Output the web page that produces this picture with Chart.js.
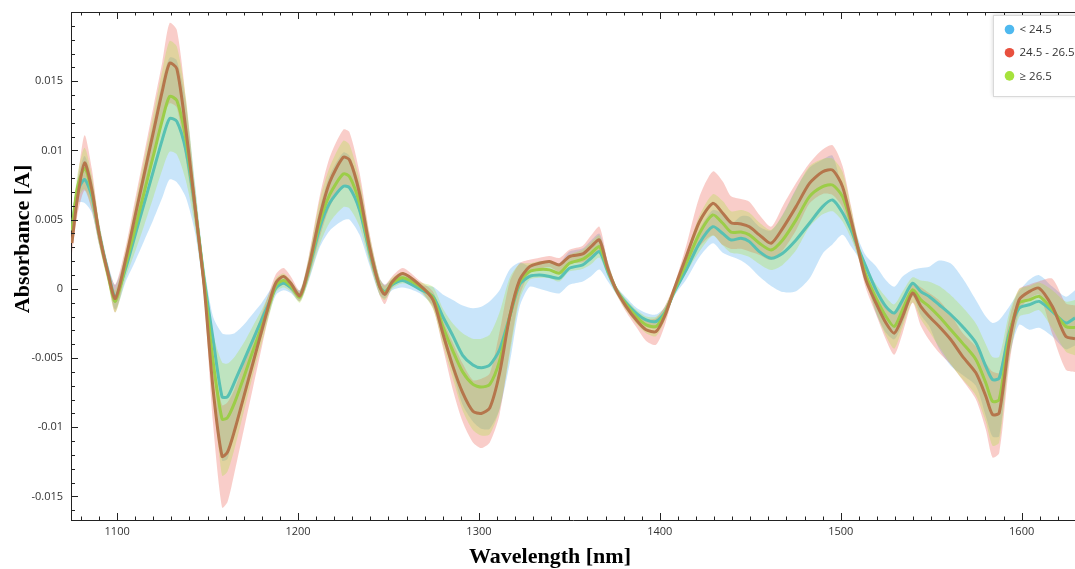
<!DOCTYPE html>
<html>
<head>
<meta charset="utf-8">
<script src="https://cdn.jsdelivr.net/npm/chart.js@4.4.1/dist/chart.umd.min.js"></script>
<style>
  html, body { margin: 0; padding: 0; background: #ffffff; }
  #wrap { position: relative; width: 1075px; height: 569px; }
</style>
</head>
<body>
<div id="wrap"><canvas id="chart" width="1075" height="569"></canvas></div>
<script>
// ---------------- DATA ----------------
const wavelengths = [1075,1078,1082,1086,1090,1095,1099,1105,1110,1115,
  1120,1125,1129,1133,1138,1143,1148,1153,1158,1161,
  1165,1170,1175,1180,1185,1188,1192,1196,1201,1206,
  1212,1217.5,1225,1228.5,1234,1239.5,1245,1248,1252,1258,
  1267,1274.6,1280,1285.6,1291,1296.7,1301.3,1306,1311.4,1317,
  1322.5,1328,1333.5,1339,1344.5,1350,1357.4,1362,1366.6,1371.2,
  1375.9,1381.4,1386.9,1392.4,1397.9,1402.6,1408.1,1414.6,1421.9,1429.3,
  1434.8,1439.4,1444.9,1449.5,1455,1461.5,1467.9,1475.3,1482.7,1490,
  1495.5,1501,1505.7,1509.3,1513.9,1519.5,1525,1529.6,1534.2,1539.7,
  1544.3,1548.9,1554.4,1560.9,1567.3,1574.7,1580.2,1583.9,1587.6,1593.1,
  1598.6,1604.2,1609.7,1617,1624.4,1629.5];

// group "< 24.5" (blue)
const meanLow = [0.0043,0.0070,0.0079,0.0067,0.0040,0.0012,-0.0006,0.0016,0.0039,0.0062,
  0.0085,0.0108,0.0123,0.0121,0.0100,0.0059,0.0008,-0.0036,-0.0078,-0.0078,
  -0.0067,-0.0052,-0.0037,-0.0022,-0.0007,0.0001,0.0004,0.0001,-0.0005,0.0014,
  0.0044,0.0062,0.0074,0.0073,0.0057,0.0027,0.0002,-0.0002,0.0003,0.0006,
  0.0000,-0.00055,-0.0020,-0.0034,-0.0048,-0.0055,-0.0057,-0.0055,-0.0044,-0.0020,
  0.0003,0.0009,0.0010,0.00089,0.00077,0.00149,0.00173,0.00221,0.00269,0.00125,
  -0.00007,-0.00103,-0.00175,-0.00224,-0.00236,-0.00175,-0.0002,0.00137,0.0033,0.00449,
  0.0040,0.00353,0.00365,0.00341,0.00269,0.00221,0.00257,0.00353,0.00474,0.00594,
  0.00642,0.0055,0.00425,0.00305,0.0016,-0.00007,-0.00128,-0.00175,-0.0008,0.00041,
  -0.0002,-0.00055,-0.00115,-0.00187,-0.00272,-0.0039,-0.0056,-0.00656,-0.00645,-0.0032,
  -0.0014,-0.00115,-0.00091,-0.00164,-0.00247,-0.0021];
const sdLow = [0.0006,0.0008,0.0017,0.0012,0.0008,0.0006,0.0009,0.0010,0.0019,0.0027,
  0.0035,0.0042,0.0044,0.0044,0.0034,0.0018,0.0010,0.0016,0.0046,0.0045,
  0.0035,0.0026,0.0019,0.0012,0.0007,0.0005,0.0005,0.0004,0.0004,0.0008,
  0.0014,0.0020,0.00245,0.0023,0.0018,0.0010,0.0006,0.0005,0.0004,0.0005,
  0.0003,0.0007,0.0016,0.0026,0.0036,0.0041,0.0044,0.0046,0.0043,0.0034,
  0.0016,0.00075,0.0010,0.0011,0.0011,0.0012,0.0012,0.0013,0.0013,0.0007,
  0.0003,0.0004,0.0004,0.0005,0.0005,0.0004,0.0003,0.0007,0.0010,0.0012,
  0.0014,0.0012,0.0016,0.0018,0.0018,0.0020,0.0028,0.0037,0.0040,0.0034,
  0.0032,0.0016,0.0012,0.0007,0.0008,0.0017,0.0019,0.0019,0.0017,0.00096,
  0.0017,0.00215,0.0032,0.0037,0.0035,0.0031,0.0036,0.0041,0.0042,0.0019,
  0.0012,0.0018,0.0019,0.0018,0.0019,0.0020];

// group "24.5 - 26.5" (red)
const meanMid = [0.0033,0.0065,0.0091,0.0072,0.0040,0.0011,-0.0007,0.0023,0.0053,0.0083,
  0.0113,0.0143,0.0163,0.0159,0.0115,0.0060,0.0003,-0.0072,-0.0121,-0.0118,
  -0.0102,-0.0078,-0.0054,-0.0030,-0.0006,0.0005,0.0009,0.0004,-0.0005,0.0016,
  0.0052,0.0077,0.0095,0.0093,0.0069,0.00305,0.0002,-0.0004,0.0005,0.0011,
  0.0003,-0.0008,-0.0032,-0.0056,-0.0075,-0.00885,-0.0090,-0.0086,-0.0061,-0.0020,
  0.00065,0.0016,0.00185,0.00197,0.00173,0.00233,0.00252,0.00305,0.00353,0.00149,
  -0.00007,-0.00128,-0.00224,-0.00296,-0.00308,-0.0020,0.00005,0.00233,0.00485,0.00618,
  0.00546,0.00478,0.00469,0.00449,0.0039,0.00329,0.00437,0.00594,0.00762,0.00846,
  0.00858,0.00738,0.00498,0.00305,0.00065,-0.00103,-0.00247,-0.0032,-0.0020,-0.00031,
  -0.00128,-0.0020,-0.00272,-0.00368,-0.00488,-0.00607,-0.00776,-0.00908,-0.00896,-0.0039,
  -0.0008,-0.0002,0.00005,-0.00128,-0.00344,-0.0036];
const sdMid = [0.0008,0.0012,0.0020,0.0015,0.0008,0.0006,0.0010,0.0009,0.0012,0.0015,
  0.0018,0.0021,0.0029,0.0028,0.0022,0.0012,0.0008,0.0025,0.0037,0.0036,
  0.0030,0.0024,0.0018,0.0012,0.0007,0.0006,0.0006,0.0005,0.0004,0.0008,
  0.0015,0.0018,0.0020,0.0020,0.0015,0.0010,0.0006,0.0007,0.0004,0.0004,
  0.0003,0.0006,0.0010,0.0017,0.0021,0.00225,0.0025,0.0025,0.0030,0.0025,
  0.0012,0.0005,0.0004,0.0004,0.0005,0.0005,0.0006,0.0008,0.00096,0.0005,
  0.0003,0.0004,0.0005,0.0008,0.00096,0.0007,0.0003,0.0008,0.0018,0.0023,
  0.0023,0.0019,0.0018,0.0018,0.00145,0.0012,0.0016,0.0017,0.00145,0.0016,
  0.0018,0.0015,0.0010,0.0006,0.0006,0.0008,0.0012,0.00156,0.0012,0.0007,
  0.0014,0.0017,0.0019,0.0018,0.0017,0.0019,0.0024,0.0031,0.0029,0.0017,
  0.0008,0.0005,0.0005,0.0020,0.0024,0.0024];

// group "≥ 26.5" (green)
const meanHigh = [0.0042,0.0073,0.0087,0.0070,0.0040,0.0010,-0.0009,0.0019,0.0044,0.0070,
  0.0096,0.0122,0.0139,0.0136,0.0108,0.0060,0.0006,-0.0052,-0.0094,-0.0093,
  -0.0082,-0.0064,-0.0045,-0.0027,-0.0008,0.0003,0.0006,0.0002,-0.0006,0.0015,
  0.0048,0.0068,0.0083,0.0081,0.0062,0.0029,0.0002,-0.0003,0.0004,0.0008,
  0.0002,-0.00065,-0.0027,-0.0045,-0.0060,-0.0069,-0.0071,-0.0069,-0.0052,-0.0020,
  0.0005,0.00125,0.0014,0.00137,0.00113,0.00185,0.00214,0.00257,0.00305,0.0014,
  -0.00007,-0.00115,-0.0020,-0.0026,-0.00272,-0.00185,-0.00007,0.00185,0.0040,0.00534,
  0.00474,0.0041,0.0041,0.0039,0.0033,0.00281,0.00353,0.00498,0.00666,0.00738,
  0.0075,0.00666,0.00474,0.00305,0.0010,-0.00067,-0.0020,-0.00272,-0.0015,-0.00007,
  -0.0008,-0.00128,-0.0020,-0.00296,-0.00392,-0.0051,-0.0068,-0.00813,-0.0080,-0.00344,
  -0.00103,-0.0008,-0.00055,-0.0015,-0.00272,-0.0028];
const sdHigh = [0.0006,0.0009,0.0015,0.0012,0.0008,0.0006,0.0008,0.0010,0.0017,0.0024,
  0.0030,0.0036,0.0040,0.0039,0.0030,0.0015,0.0009,0.0020,0.0041,0.0039,
  0.0033,0.0025,0.0018,0.0012,0.0007,0.0005,0.0005,0.0004,0.0004,0.0008,
  0.0016,0.0020,0.0024,0.0023,0.0017,0.0010,0.0006,0.0005,0.0004,0.0004,
  0.0003,0.0008,0.0013,0.0020,0.0028,0.0033,0.0035,0.0036,0.0035,0.0028,
  0.0013,0.0006,0.0006,0.0006,0.0006,0.0006,0.0007,0.0008,0.0008,0.0005,
  0.0003,0.0004,0.0005,0.0006,0.0007,0.0005,0.0003,0.0007,0.0013,0.0015,
  0.0016,0.0015,0.0016,0.0016,0.0015,0.00145,0.0018,0.0022,0.0022,0.0020,
  0.0019,0.0018,0.0011,0.0006,0.0006,0.0010,0.0014,0.0016,0.0013,0.0009,
  0.0014,0.0018,0.0022,0.0025,0.0026,0.0026,0.0028,0.0032,0.0031,0.0017,
  0.0010,0.0010,0.0010,0.0014,0.0018,0.0020];

const groupLabels = ['< 24.5', '24.5 - 26.5', '\u2265 26.5'];
const xTickValues = [1100, 1200, 1300, 1400, 1500, 1600];
const yTickValues = [-0.015, -0.01, -0.005, 0, 0.005, 0.01, 0.015];
const xTitle = 'Wavelength [nm]';
const yTitle = 'Absorbance [A]';

// ---------------- STYLE ----------------
const legendColors = ['#4fb9ef', '#e8503e', '#a6e23c'];
const lineColors  = { low: '#58c1b3', mid: '#b5764c', high: '#9ccd48' };
const bandColors  = { low: 'rgba(100,180,240,0.35)', mid: 'rgba(235,90,75,0.30)', high: 'rgba(170,225,60,0.30)' };

function pts(arr) { return wavelengths.map((w, i) => ({ x: w, y: arr[i] })); }
function bandPts(mean, sd, sign) { return wavelengths.map((w, i) => ({ x: w, y: mean[i] + sign * sd[i] })); }

const TENSION = 0.25;
function bandLower(mean, sd, order) {
  return { data: bandPts(mean, sd, -1), borderWidth: 0, borderColor: 'transparent', pointRadius: 0, fill: false, tension: TENSION, order: order };
}
function bandUpper(mean, sd, color, order) {
  return { data: bandPts(mean, sd, 1), borderWidth: 0, borderColor: 'transparent', pointRadius: 0, fill: '-1', backgroundColor: color, tension: TENSION, order: order };
}
function meanLine(label, mean, color, order) {
  return { label: label, data: pts(mean), borderColor: color, borderWidth: 3, pointRadius: 0, fill: false, tension: TENSION, order: order, borderJoinStyle: 'round' };
}

const datasets = [
  bandLower(meanLow, sdLow, 9),
  bandUpper(meanLow, sdLow, bandColors.low, 8),
  bandLower(meanMid, sdMid, 7),
  bandUpper(meanMid, sdMid, bandColors.mid, 6),
  bandLower(meanHigh, sdHigh, 5),
  bandUpper(meanHigh, sdHigh, bandColors.high, 4),
  meanLine(groupLabels[0], meanLow, lineColors.low, 3),
  meanLine(groupLabels[2], meanHigh, lineColors.high, 2),
  meanLine(groupLabels[1], meanMid, lineColors.mid, 1)
];

// ---------------- PLUGINS ----------------
const innerTicks = {
  id: 'innerTicks',
  afterDatasetsDraw(chart) {
    const { ctx, chartArea: ca, scales: { x, y } } = chart;
    ctx.save();
    ctx.strokeStyle = '#222';
    ctx.lineWidth = 1;
    ctx.beginPath();
    ctx.moveTo(ca.left, ca.top + 0.5); ctx.lineTo(ca.right, ca.top + 0.5);
    for (let v = Math.ceil(x.min / 10) * 10; v <= x.max; v += 10) {
      const px = Math.round(x.getPixelForValue(v)) + 0.5;
      const len = (v % 100 === 0) ? 7 : 3.5;
      ctx.moveTo(px, ca.bottom); ctx.lineTo(px, ca.bottom - len);
      ctx.moveTo(px, ca.top); ctx.lineTo(px, ca.top + len);
    }
    for (let k = Math.ceil(y.min * 1000); k <= Math.floor(y.max * 1000); k++) {
      const py = Math.round(y.getPixelForValue(k / 1000)) + 0.5;
      const len = (k % 5 === 0) ? 7 : 4;
      ctx.moveTo(ca.left, py); ctx.lineTo(ca.left + len, py);
    }
    ctx.stroke();
    ctx.restore();
  }
};

const axisTitles = {
  id: 'axisTitles',
  afterDraw(chart) {
    const ctx = chart.ctx;
    ctx.save();
    ctx.fillStyle = '#000';
    ctx.font = 'bold 22px "Liberation Serif", "Times New Roman", serif';
    ctx.textAlign = 'center';
    ctx.textBaseline = 'alphabetic';
    ctx.fillText(xTitle, 550, 563);
    ctx.translate(29, 239);
    ctx.rotate(-Math.PI / 2);
    ctx.fillText(yTitle, 0, 0);
    ctx.restore();
  }
};

const boxLegend = {
  id: 'boxLegend',
  afterDraw(chart) {
    const ctx = chart.ctx;
    const bx = 993, by = 15, bw = 90, bh = 81;
    ctx.save();
    ctx.shadowColor = 'rgba(0,0,0,0.18)';
    ctx.shadowBlur = 4;
    ctx.fillStyle = '#ffffff';
    ctx.fillRect(bx, by, bw, bh);
    ctx.shadowColor = 'transparent';
    ctx.strokeStyle = '#d9d9d9';
    ctx.lineWidth = 1;
    ctx.strokeRect(bx + 0.5, by + 0.5, bw, bh);
    ctx.font = '11.5px "Open Sans", "Noto Sans", sans-serif';
    ctx.textAlign = 'left';
    ctx.textBaseline = 'middle';
    [0, 1, 2].forEach((i) => {
      const cy = 29.5 + i * 23.2;
      ctx.beginPath();
      ctx.arc(1009.5, cy, 4.8, 0, Math.PI * 2);
      ctx.fillStyle = legendColors[i];
      ctx.fill();
      ctx.fillStyle = '#333';
      ctx.fillText(groupLabels[i], 1019.5, cy + 0.5);
    });
    ctx.restore();
  }
};

// ---------------- CHART ----------------
const tickFont = { family: '"Open Sans", "Noto Sans", sans-serif', size: 11 };

new Chart(document.getElementById('chart'), {
  type: 'line',
  data: { datasets: datasets },
  options: {
    responsive: false,
    animation: false,
    devicePixelRatio: 1,
    layout: { padding: { top: 12, right: 0, left: 0, bottom: 0 } },
    plugins: { legend: { display: false }, tooltip: { enabled: false } },
    scales: {
      x: {
        type: 'linear',
        min: 1074.5,
        max: 1629.5,
        grid: { display: false, drawTicks: false },
        border: { display: true, color: '#222', width: 1 },
        ticks: { font: tickFont, color: '#333', padding: 5, autoSkip: false, maxRotation: 0,
                 callback: (v) => String(v) },
        afterBuildTicks: (s) => { s.ticks = xTickValues.map((v) => ({ value: v })); },
        afterFit: (s) => { s.height = 49; s.paddingLeft = 0; s.paddingRight = 0; }
      },
      y: {
        type: 'linear',
        min: -0.0167,
        max: 0.0200,
        grid: { display: false, drawTicks: false },
        border: { display: true, color: '#222', width: 1 },
        ticks: { font: tickFont, color: '#333', padding: 8, autoSkip: false,
                 callback: (v) => String(parseFloat(Number(v).toFixed(4))) },
        afterBuildTicks: (s) => { s.ticks = yTickValues.map((v) => ({ value: v })); },
        afterFit: (s) => { s.width = 71; s.paddingTop = 0; s.paddingBottom = 0; }
      }
    }
  },
  plugins: [innerTicks, axisTitles, boxLegend]
});
</script>
</body>
</html>
